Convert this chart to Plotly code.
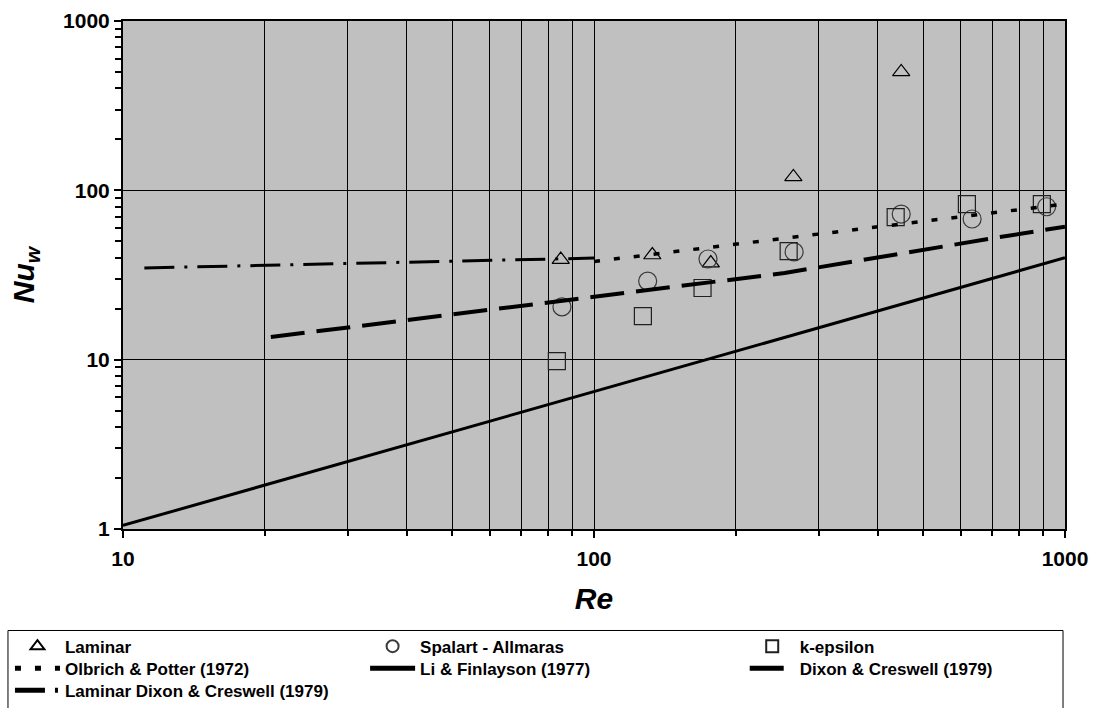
import plotly.graph_objects as go

# Simulated wall Nusselt number vs. Reynolds number
re_laminar = [85, 133, 177, 265, 449]
nu_laminar = [39, 41.5, 37.2, 120, 500]

re_sa = [85.5, 130, 174.6, 266, 449, 635, 914]
nu_sa = [20.5, 29.1, 39.3, 43.3, 72.4, 67.7, 80]

re_ke = [83.4, 127, 170, 259, 437, 619, 893]
nu_ke = [9.8, 18.1, 26.5, 43.8, 69.5, 83, 83]

# Literature correlations
re_olbrich = [100, 1000]
nu_olbrich = [38, 83]

re_li = [10, 1000]
nu_li = [1.05, 40]

re_dixon = [20.6, 93, 176, 254, 728, 1000]
nu_dixon = [13.6, 22.8, 28.5, 32.5, 53, 61]

re_lam_dixon = [11.1, 100]
nu_lam_dixon = [34.8, 39.8]

# Axis ticks
x_ticks = [10, 100, 1000]
y_ticks = [1, 10, 100, 1000]
minor_vals = [m * 10 ** d for d in range(0, 3) for m in range(2, 10)]

FONT = 'Arial, "Liberation Sans", sans-serif'

fig = go.Figure()

fig.add_trace(go.Scatter(
    x=re_laminar, y=nu_laminar, mode="markers", name="Laminar", legend="legend",
    marker=dict(symbol="triangle-up-open", size=15, color="black", line=dict(width=1.2)),
))
fig.add_trace(go.Scatter(
    x=re_sa, y=nu_sa, mode="markers", name="Spalart - Allmaras", legend="legend2",
    marker=dict(symbol="circle-open", size=18, color="#3a3a3a", line=dict(width=1.2)),
))
fig.add_trace(go.Scatter(
    x=re_ke, y=nu_ke, mode="markers", name="k-epsilon", legend="legend3",
    marker=dict(symbol="square-open", size=17, color="#202020", line=dict(width=1.2)),
))
fig.add_trace(go.Scatter(
    x=re_olbrich, y=nu_olbrich, mode="lines", name="Olbrich & Potter (1972)", legend="legend4",
    line=dict(color="black", width=3.5, dash="6px,14px"),
))
fig.add_trace(go.Scatter(
    x=re_li, y=nu_li, mode="lines", name="Li & Finlayson (1977)", legend="legend5",
    line=dict(color="black", width=3),
))
fig.add_trace(go.Scatter(
    x=re_dixon, y=nu_dixon, mode="lines", name="Dixon & Creswell (1979)", legend="legend6",
    line=dict(color="black", width=4, dash="34px,12px"),
))
fig.add_trace(go.Scatter(
    x=re_lam_dixon, y=nu_lam_dixon, mode="lines", name="Laminar Dixon & Creswell (1979)",
    legend="legend7",
    line=dict(color="black", width=3, dash="30px,10px,3px,10px"),
))

axis_common = dict(
    type="log",
    showline=True, linecolor="black", linewidth=2, mirror=True,
    ticks="outside", ticklen=7, tickwidth=1.5, tickcolor="black",
    tickfont=dict(family=FONT, size=21, color="black", weight="bold"),
    showgrid=True, gridcolor="black", gridwidth=1,
    zeroline=False,
)

fig.update_xaxes(
    **axis_common,
    range=[1, 3],
    tickmode="array", tickvals=x_ticks, ticktext=[str(v) for v in x_ticks],
    ticklabelstandoff=3,
    minor=dict(tickmode="array", tickvals=minor_vals, ticks="outside", ticklen=5,
               tickcolor="black", showgrid=True, gridcolor="black", gridwidth=1),
    title=dict(text="<b><i>Re</i></b>", font=dict(family=FONT, size=30, color="black"),
               standoff=19),
)
fig.update_yaxes(
    **axis_common,
    range=[0, 3],
    tickmode="array", tickvals=y_ticks, ticktext=[str(v) for v in y_ticks],
    minor=dict(tickmode="array", tickvals=minor_vals, ticks="outside", ticklen=6,
               tickcolor="black", showgrid=False),
    title=dict(text="<b><i>Nu<sub>w</sub></i></b>", font=dict(family=FONT, size=30, color="black"),
               standoff=20),
)

# Legend: three columns by three rows, one entry per legend box
legend_common = dict(
    font=dict(family=FONT, size=17, color="black", weight="bold"),
    bgcolor="rgba(0,0,0,0)", borderwidth=0, itemwidth=45, itemsizing="constant",
    xanchor="left", yanchor="top", orientation="v", tracegroupgap=0,
)
col_x = [-0.12, 0.257, 0.66]
row_y = [-0.1961, -0.2394, -0.2827]
legend_slots = {
    "legend": (0, 0), "legend2": (1, 0), "legend3": (2, 0),
    "legend4": (0, 1), "legend5": (1, 1), "legend6": (2, 1),
    "legend7": (0, 2),
}
legend_layout = {
    key: dict(**legend_common, x=col_x[c], y=row_y[r])
    for key, (c, r) in legend_slots.items()
}

fig.update_layout(
    width=1093, height=708,
    margin=dict(l=123, r=28, t=21, b=179, autoexpand=False),
    paper_bgcolor="white", plot_bgcolor="#C0C0C0",
    font=dict(family=FONT, color="black"),
    showlegend=True,
    **legend_layout,
    shapes=[dict(
        type="rect", xref="paper", yref="paper",
        x0=-0.1221, x1=0.9979, y0=-0.37, y1=-0.1998,
        line=dict(color="black", width=1), fillcolor="rgba(0,0,0,0)", layer="below",
    )],
)

fig.write_html("out.html")
